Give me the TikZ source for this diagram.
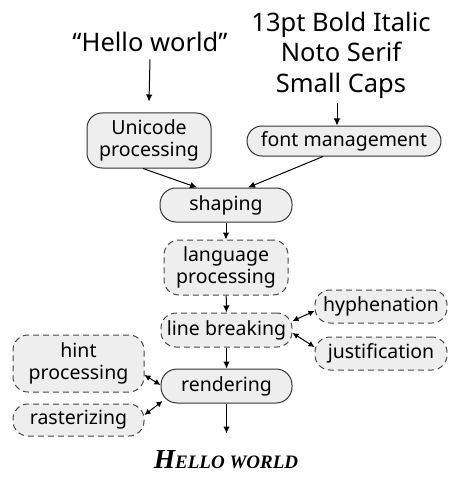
\documentclass[tikz,border=0pt]{standalone}
\usepackage{fontspec}
\setmainfont{Noto Sans}
\newfontfamily\outfont{Liberation Serif}
\usetikzlibrary{arrows.meta}
\definecolor{boxfill}{HTML}{EEEEEE}
\definecolor{boxline}{HTML}{333333}
\tikzset{
  stage/.style={draw=boxline, fill=boxfill, line width=1pt, align=center,
    inner sep=0pt, font=\fontsize{19.5}{22.5}\selectfont},
  extra/.style={stage, draw=black!72, dash pattern=on 6pt off 4pt},
  flow/.style={line width=1pt, -{Latex[length=7pt,width=6.5pt]}},
  both/.style={line width=1pt, {Latex[length=6pt,width=6pt]}-{Latex[length=6pt,width=6pt]}}
}
\begin{document}
\begin{tikzpicture}[x=1pt,y=-1pt]
     \useasboundingbox (0,0) rectangle (454,500);
     % inputs
     \node (hello) at (150,42) [font=\fontsize{25.5}{30}\selectfont] {``Hello world''};
     \node (spec) at (341,55) [align=center, font=\fontsize{25.5}{30.5}\selectfont] {13pt Bold Italic\\Noto Serif\\Small Caps};
     % main stages
     \node (uni) at (149,140.5) [stage, minimum width=124pt, minimum height=55pt, rounded corners=15pt] {Unicode\\processing};
     \node (fm) at (344,141) [stage, minimum width=194pt, minimum height=30pt, rounded corners=15pt] {font management};
     \node (shp) at (226,205) [stage, minimum width=132pt, minimum height=34pt, rounded corners=16pt] {shaping};
     \node (lang) at (226,267.5) [extra, minimum width=124pt, minimum height=55pt, rounded corners=15pt] {language\\processing};
     \node (brk) at (226.5,330) [extra, minimum width=131pt, minimum height=34pt, rounded corners=15pt] {line breaking};
     \node (hyph) at (381,306.5) [extra, minimum width=132pt, minimum height=33pt, rounded corners=15pt] {hyphenation};
     \node (just) at (381,353.5) [extra, minimum width=132pt, minimum height=33pt, rounded corners=15pt] {justification};
     \node (rend) at (226.5,386) [stage, minimum width=131pt, minimum height=34pt, rounded corners=16pt] {rendering};
     \node (hint) at (78.5,363.5) [extra, minimum width=131pt, minimum height=57pt, rounded corners=15pt] {hint\\processing};
     \node (rast) at (78.5,420) [extra, minimum width=131pt, minimum height=32pt, rounded corners=15pt] {rasterizing};
     % output
     \node (out) at (226,460) [font=\outfont\bfseries\itshape] {{\fontsize{27.5}{30}\selectfont H}{\fontsize{19}{20}\selectfont ELLO WORLD}};
     \draw[flow] ([yshift=-4pt]hello.south) -- ([yshift=11pt]uni.north);
     \draw[flow] ([xshift=-4pt,yshift=-1pt]spec.south) -- ([xshift=-7pt]fm.north);
     \draw[flow] ([xshift=-6pt]uni.south) -- ([xshift=-29pt]shp.north);
     \draw[flow] ([xshift=-21pt]fm.south) -- ([xshift=22pt]shp.north);
     \draw[flow] (shp) -- (lang);
     \draw[flow] (lang) -- (brk);
     \draw[flow] (brk) -- (rend);
     \draw[both] ([yshift=9pt]brk.east) -- ([yshift=-4.5pt]hyph.west);
     \draw[both] ([yshift=-3pt]brk.east) -- ([yshift=6.5pt]just.west);
     \draw[both] ([yshift=-11.5pt]hint.east) -- ([yshift=1pt]rend.west);
     \draw[both] ([yshift=5pt]rast.east) -- ([xshift=2pt,yshift=-15pt]rend.west);
     \draw[flow] (rend.south) -- ([yshift=-30pt]rend.south);
\end{tikzpicture}
\end{document}
